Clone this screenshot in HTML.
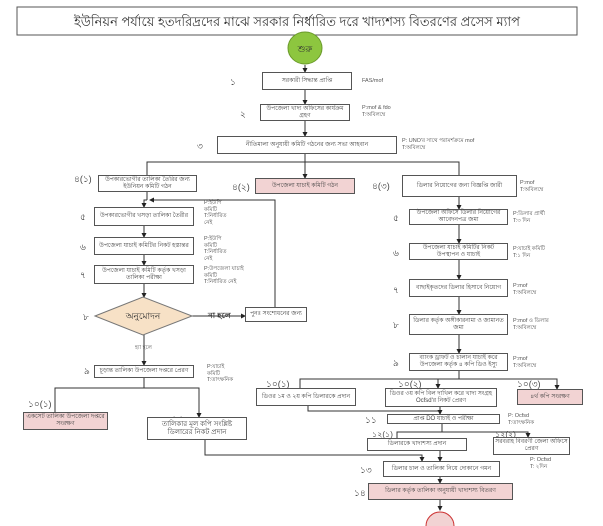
<!DOCTYPE html>
<html><head><meta charset="utf-8"><style>
body{margin:0;background:#fff;}
#c{position:relative;width:603px;height:526px;overflow:hidden;font-family:"Liberation Sans","DejaVu Sans",sans-serif;color:#333;}
.b{position:absolute;border:1px solid #555;background:#fff;font-size:6px;line-height:7px;text-align:center;display:flex;align-items:center;justify-content:center;box-sizing:border-box;padding:1px;color:#444;}
.p{background:#f2d3d3;}
.t{position:absolute;font-size:5.5px;line-height:6.5px;color:#555;}
.n{position:absolute;font-size:9px;color:#444;}
svg{position:absolute;left:0;top:0;}
</style></head><body><div id="c">
<svg width="603" height="526">
<defs><marker id="a" markerWidth="5" markerHeight="5" refX="4" refY="2.5" orient="auto"><path d="M0,0L5,2.5L0,5z" fill="#222"/></marker></defs>
<g stroke="#333" stroke-width="1" fill="none">
<line x1="305" y1="65" x2="305" y2="72" marker-end="url(#a)"/>
<line x1="305" y1="90" x2="305" y2="104" marker-end="url(#a)"/>
<line x1="305" y1="121" x2="305" y2="136" marker-end="url(#a)"/>
<line x1="305" y1="154" x2="305" y2="178" marker-end="url(#a)"/>
<polyline points="147,175 147,162 459,162 459,175" />
<line x1="147" y1="192" x2="147" y2="200"/>
<polyline points="147,200 144,200 144,207" marker-end="url(#a)"/>
<line x1="144" y1="226" x2="144" y2="237" marker-end="url(#a)"/>
<line x1="144" y1="255" x2="144" y2="265" marker-end="url(#a)"/>
<line x1="144" y1="284" x2="144" y2="297" marker-end="url(#a)"/>
<line x1="192" y1="316" x2="245" y2="316" marker-end="url(#a)"/>
<polyline points="275,307 275,200 150,200" marker-end="url(#a)"/>
<line x1="144" y1="335" x2="144" y2="365" marker-end="url(#a)"/>
<line x1="144" y1="378" x2="144" y2="388"/>
<polyline points="55,412 55,388 199,388 199,417" marker-end="url(#a)"/>
<polyline points="205,440 205,455 422,455 422,461" marker-end="url(#a)"/>
<line x1="459" y1="197" x2="459" y2="209" marker-end="url(#a)"/>
<line x1="459" y1="225" x2="459" y2="243" marker-end="url(#a)"/>
<line x1="459" y1="260" x2="459" y2="279" marker-end="url(#a)"/>
<line x1="459" y1="297" x2="459" y2="314" marker-end="url(#a)"/>
<line x1="459" y1="335" x2="459" y2="353" marker-end="url(#a)"/>
<line x1="459" y1="371" x2="459" y2="379"/>
<polyline points="300,388 300,379 557,379 557,389" marker-end="url(#a)"/>
<line x1="438" y1="379" x2="438" y2="388" marker-end="url(#a)"/>
<polyline points="308,406 308,411 440,411"/>
<line x1="440" y1="407" x2="440" y2="414" marker-end="url(#a)"/>
<line x1="442" y1="424" x2="442" y2="432"/>
<polyline points="397,438 397,432 528,432 528,437" marker-end="url(#a)"/>
<line x1="440" y1="451" x2="440" y2="461" marker-end="url(#a)"/>
<line x1="440" y1="477" x2="440" y2="483" marker-end="url(#a)"/>
<line x1="440" y1="500" x2="440" y2="510" marker-end="url(#a)"/>
</g>
<rect x="17" y="7" width="560" height="28" fill="#fff" stroke="#555"/>
<text x="297" y="26" font-size="13" text-anchor="middle" fill="#333" font-family="Liberation Sans,sans-serif">ইউনিয়ন পর্যায়ে হতদরিদ্রদের মাঝে সরকার নির্ধারিত দরে খাদ্যশস্য বিতরণের প্রসেস ম্যাপ</text>
<ellipse cx="305" cy="48" rx="17" ry="16" fill="#8dc63f" stroke="#6a9a2a"/>
<text x="305" y="52" font-size="9" text-anchor="middle" fill="#333">শুরু</text>
<polygon points="95,316 143,297 192,316 143,335" fill="#f7e1c6" stroke="#777"/>
<text x="143" y="319" font-size="9" text-anchor="middle" fill="#333">অনুমোদন</text>
<ellipse cx="440" cy="526" rx="14" ry="14" fill="#f2d3d3" stroke="#c33"/>
</svg>
<div class="b" style="left:262px;top:72px;width:90px;height:18px">সরকারী সিদ্ধান্ত প্রাপ্তি</div>
<div class="n" style="left:230px;top:75px">১</div><div class="t" style="left:362px;top:78px">FAS/mof</div>
<div class="b" style="left:260px;top:104px;width:90px;height:17px">উপজেলা খাদ্য অফিসের কার্যক্রম গ্রহণ</div>
<div class="n" style="left:240px;top:107px">২</div><div class="t" style="left:362px;top:105px">P:mof &amp; fdo<br>T:অবিলম্বে</div>
<div class="b" style="left:217px;top:136px;width:180px;height:18px">নীতিমালা অনুযায়ী কমিটি গঠনের জন্য সভা আহবান</div>
<div class="n" style="left:197px;top:139px">৩</div><div class="t" style="left:402px;top:138px">P: UNO'র সাথে পরামর্শক্রমে mof<br>T:অবিলম্বে</div>
<div class="b" style="left:98px;top:175px;width:99px;height:17px">উপকারভোগীর তালিকা তৈরির জন্য ইউনিয়ন কমিটি গঠন</div>
<div class="n" style="left:74px;top:172px">৪(১)</div>
<div class="b p" style="left:255px;top:178px;width:100px;height:16px">উপজেলা যাচাই কমিটি গঠন</div>
<div class="n" style="left:232px;top:180px">৪(২)</div>
<div class="b" style="left:402px;top:175px;width:115px;height:22px">ডিলার নিয়োগের জন্য বিজ্ঞপ্তি জারী</div>
<div class="n" style="left:372px;top:179px">৪(৩)</div><div class="t" style="left:520px;top:180px">P:mof<br>T:অবিলম্বে</div>
<div class="b" style="left:94px;top:207px;width:100px;height:19px">উপকারভোগীর খসড়া তালিকা তৈরীর</div>
<div class="n" style="left:80px;top:210px">৫</div><div class="t" style="left:204px;top:200px">P:ইউপি<br>কমিটি<br>T:নির্ধারিত<br>নেই</div>
<div class="b" style="left:94px;top:237px;width:100px;height:18px">উপজেলা যাচাই কমিটির নিকট হস্তান্তর</div>
<div class="n" style="left:80px;top:240px">৬</div><div class="t" style="left:204px;top:236px">P:ইউপি<br>কমিটি<br>T:নির্ধারিত<br>নেই</div>
<div class="b" style="left:94px;top:265px;width:100px;height:19px">উপজেলা যাচাই কমিটি কর্তৃক খসড়া তালিকা পরীক্ষা</div>
<div class="n" style="left:80px;top:268px">৭</div><div class="t" style="left:204px;top:266px">P:উপজেলা যাচাই<br>কমিটি<br>T:নির্ধারিত নেই</div>
<div class="n" style="left:83px;top:310px">৮</div>
<div class="n" style="left:208px;top:310px;font-size:8px;font-weight:bold">না হলে</div>
<div class="b" style="left:245px;top:307px;width:62px;height:15px">পুনঃ সংশোধনের জন্য</div>
<div class="t" style="left:135px;top:345px">হ্যা হলে</div>
<div class="b" style="left:94px;top:365px;width:100px;height:13px">চূড়ান্ত তালিকা উপজেলা দপ্তরে প্রেরণ</div>
<div class="n" style="left:84px;top:364px">৯</div><div class="t" style="left:207px;top:364px">P:যাচাই<br>কমিটি<br>T:তাৎক্ষনিক</div>
<div class="n" style="left:28px;top:397px">১০(১)</div>
<div class="b p" style="left:23px;top:412px;width:85px;height:18px">একসেট তালিকা উপজেলা দপ্তরে সংরক্ষণ</div>
<div class="n" style="left:160px;top:413px">১০(২)</div>
<div class="b" style="left:147px;top:417px;width:100px;height:23px;font-size:7px;line-height:8px">তালিকার মূল কপি সংশ্লিষ্ট ডিলারের নিকট প্রদান</div>
<div class="b" style="left:409px;top:209px;width:99px;height:16px">উপজেলা অফিসে ডিলার নিয়োগের আবেদনপত্র জমা</div>
<div class="n" style="left:393px;top:211px">৫</div><div class="t" style="left:513px;top:211px">P:ডিলার প্রার্থী<br>T:৩ দিন</div>
<div class="b" style="left:409px;top:243px;width:99px;height:17px">উপজেলা যাচাই কমিটির নিকট উপস্থাপন ও যাচাই</div>
<div class="n" style="left:393px;top:246px">৬</div><div class="t" style="left:513px;top:246px">P:যাচাই কমিটি<br>T:১ দিন</div>
<div class="b" style="left:409px;top:279px;width:99px;height:18px">বাছাইকৃতদের ডিলার হিসাবে নিয়োগ</div>
<div class="n" style="left:393px;top:283px">৭</div><div class="t" style="left:513px;top:283px">P:mof<br>T:অবিলম্বে</div>
<div class="b" style="left:409px;top:314px;width:99px;height:21px">ডিলার কর্তৃক অঙ্গীকারনামা ও জামানত জমা</div>
<div class="n" style="left:393px;top:318px">৮</div><div class="t" style="left:513px;top:318px">P:mof ও ডিলার<br>T:অবিলম্বে</div>
<div class="b" style="left:409px;top:353px;width:99px;height:18px">ব্যাংক ড্রাফট ও চালান যাচাই করে উপজেলা কর্তৃক ৪ কপি ডিও ইস্যু</div>
<div class="n" style="left:393px;top:356px">৯</div><div class="t" style="left:513px;top:356px">P:mof<br>T:অবিলম্বে</div>
<div class="n" style="left:266px;top:377px">১০(১)</div>
<div class="b" style="left:256px;top:388px;width:100px;height:18px">ডিওর ১ম ও ২য় কপি ডিলারকে প্রদান</div>
<div class="n" style="left:398px;top:377px">১০(২)</div>
<div class="b" style="left:385px;top:388px;width:112px;height:19px">ডিওর ৩য় কপি বিল দাখিল করে খাদ্য সংগ্রহ Ocfsd'র নিকট প্রেরণ</div>
<div class="n" style="left:517px;top:377px">১০(৩)</div>
<div class="b p" style="left:517px;top:389px;width:66px;height:16px">৪র্থ কপি সংরক্ষণ</div>
<div class="n" style="left:365px;top:413px">১১</div>
<div class="b" style="left:387px;top:414px;width:113px;height:10px">প্রাপ্ত DO যাচাই ও পরীক্ষা</div>
<div class="t" style="left:508px;top:413px">P: Ocfsd<br>T:তাৎক্ষনিক</div>
<div class="n" style="left:372px;top:429px;font-size:8px">১২(১)</div>
<div class="b" style="left:367px;top:438px;width:100px;height:13px">ডিলারকে খাদ্যশস্য প্রদান</div>
<div class="n" style="left:495px;top:429px;font-size:8px">১২(২)</div>
<div class="b" style="left:493px;top:437px;width:77px;height:18px">সরবরাহ বিবরণী জেলা অফিসে প্রেরণ</div>
<div class="t" style="left:530px;top:457px">P: Ocfsd<br>T: ২দিন</div>
<div class="n" style="left:360px;top:463px">১৩</div>
<div class="b" style="left:383px;top:461px;width:117px;height:16px">ডিলার চাল ও তালিকা নিয়ে দোকানে গমন</div>
<div class="n" style="left:354px;top:486px">১৪</div>
<div class="b p" style="left:368px;top:483px;width:145px;height:17px">ডিলার কর্তৃক তালিকা অনুযায়ী খাদ্যশস্য বিতরণ</div>
</div></body></html>
